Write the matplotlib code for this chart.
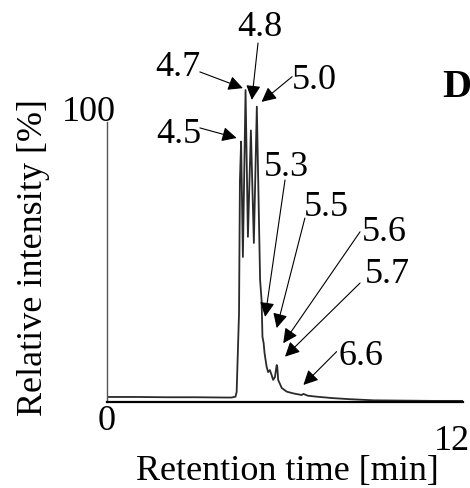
import matplotlib
matplotlib.use("Agg")
import matplotlib.pyplot as plt
import matplotlib.transforms as mtransforms

# chromatogram trace (time in min, relative intensity in %)
times = [0.0, 1.0, 2.0, 3.0, 4.0, 4.2, 4.33, 4.37, 4.45, 4.48, 4.52,
         4.58, 4.67, 4.75, 4.85, 4.95, 5.05,
         5.16, 5.21, 5.24, 5.28, 5.31, 5.38, 5.43, 5.49, 5.55, 5.60, 5.66,
         5.72, 5.74, 5.77, 5.89, 6.06, 6.27, 6.56, 6.62, 6.77, 7.07,
         7.6, 8.2, 9.0, 10.0, 11.0, 12.0]
intensity = [1.8, 1.8, 1.7, 1.7, 1.6, 1.6, 1.9, 3.6, 31.8, 79.0, 93.0,
             51.8, 111.4, 59.0, 97.0, 56.8, 105.5,
             43.6, 36.4, 23.3, 21.0, 17.5, 12.6, 10.7, 11.4, 9.6, 7.9, 8.9,
             13.2, 12.5, 7.9, 5.0, 3.7, 3.1, 2.5, 2.9, 2.25, 1.9,
             1.4, 1.0, 0.6, 0.5, 0.4, 0.4]

# peak labels, where each arrow points, where it starts and where its text sits
peak_labels = ["4.5", "4.7", "4.8", "5.0", "5.3", "5.5", "5.6", "5.7", "6.6"]
arrow_tip = [(4.37, 94.3), (4.58, 112.1), (4.88, 107.9), (5.21, 107.2),
             (5.33, 30.4), (5.72, 26.4), (5.94, 21.0), (6.00, 16.2), (6.62, 6.1)]
arrow_tail = [(3.13, 97.9), (3.13, 117.9), (5.09, 128.2), (6.24, 116.2),
              (6.00, 79.3), (6.67, 65.7), (8.53, 60.8), (8.53, 42.5), (7.74, 18.0)]
label_pos = [(2.43, 95.4), (2.39, 119.3), (5.16, 133.9), (6.98, 115.0),
             (6.03, 83.6), (7.38, 69.6), (9.34, 60.4), (9.44, 45.7), (8.56, 16.1)]

plt.rcParams["font.family"] = ["Liberation Serif", "DejaVu Serif"]
FS = 26

fig = plt.figure(figsize=(4.7, 4.88), dpi=100)
ax = fig.add_axes([0.2277, 0.1762, 0.7574, 0.6598])

ax.plot(times, intensity, color="#2a2a2a", lw=1.3)

for lab, tip, tail, pos in zip(peak_labels, arrow_tip, arrow_tail, label_pos):
    ax.annotate("", xy=tip, xytext=tail, annotation_clip=False,
                arrowprops=dict(arrowstyle="-|>", color="black", lw=0.8,
                                mutation_scale=22, shrinkA=0, shrinkB=0))
    ax.text(pos[0], pos[1], lab, fontsize=FS, ha="center", va="center",
            clip_on=False)

ax.set_xlim(0, 12)
ax.set_ylim(0, 115)

ax.spines["top"].set_visible(False)
ax.spines["right"].set_visible(False)
ax.spines["left"].set_bounds(0, 100)
ax.spines["left"].set_color("#555555")
ax.spines["left"].set_linewidth(1.0)
ax.spines["bottom"].set_linewidth(1.6)

ax.set_xticks([0, 12])
ax.set_xticklabels(["0", "12"], fontsize=FS)
ax.set_yticks([100])
ax.set_yticklabels(["100"], fontsize=FS)
ax.tick_params(length=0, pad=2)
# the original places "12" lower and "100" above the axis top
lbl12 = ax.get_xticklabels()[1]
lbl12.set_transform(lbl12.get_transform() +
                    mtransforms.ScaledTranslation(-0.11, -0.2, fig.dpi_scale_trans))
lbl100 = ax.get_yticklabels()[0]
lbl100.set_transform(lbl100.get_transform() +
                     mtransforms.ScaledTranslation(0.12, 0.14, fig.dpi_scale_trans))

ax.set_xlabel("Retention time [min]", fontsize=FS)
ax.xaxis.set_label_coords(0.507, -0.165)
ax.set_ylabel("Relative intensity [%]", fontsize=FS)
ax.yaxis.set_label_coords(-0.16, 0.45)

fig.text(0.941, 0.82, "D", fontsize=29, fontweight="bold", ha="left", va="center")

fig.savefig("out.png", dpi=100)
